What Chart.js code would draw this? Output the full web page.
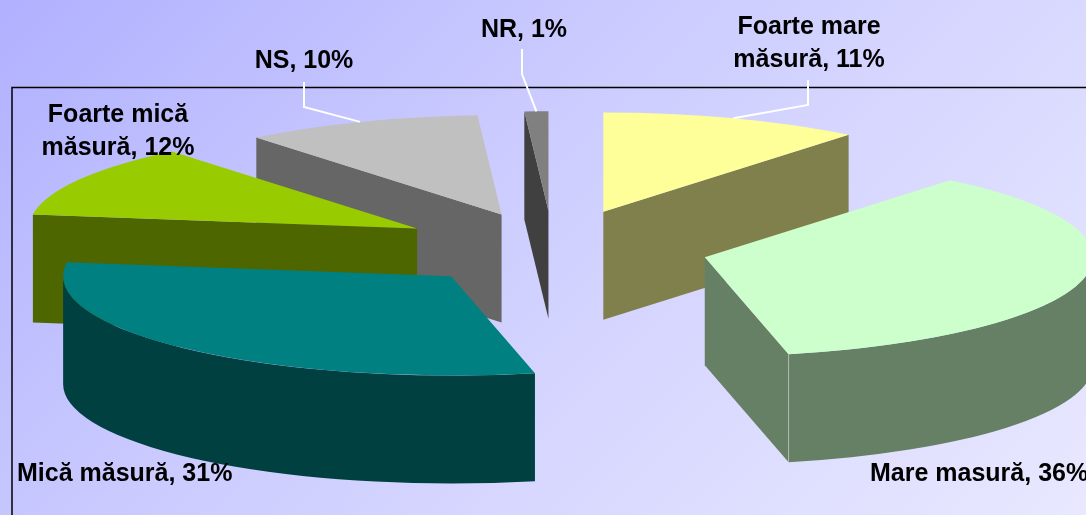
<!DOCTYPE html>
<html>
<head>
<meta charset="utf-8">
<title>Pie 3D</title>
<script src="https://cdn.jsdelivr.net/npm/chart.js@4"></script>
<style>
    html, body { margin: 0; padding: 0; width: 1086px; height: 515px; overflow: hidden; }
    body { background: linear-gradient(135deg, #b0b0ff 0%, #c8c8ff 35%, #d8d8ff 65%, #e8e8ff 100%); }
    canvas { display: block; }
</style>
</head>
<body>
<canvas id="pie" width="1086" height="515"></canvas>
<script>
// Data (clockwise from the top)
const categories = ['Foarte mare măsură', 'Mare masură', 'Mică măsură', 'Foarte mică măsură', 'NS', 'NR'];
const percentages = [11, 36, 31, 12, 10, 1];
const labelLines = [
    ['Foarte mare', 'măsură, 11%'],
    ['Mare masură, 36%'],
    ['Mică măsură, 31%'],
    ['Foarte mică', 'măsură, 12%'],
    ['NS, 10%'],
    ['NR, 1%']
];
const topColors = ['#ffff99', '#ccffcc', '#008080', '#99cc00', '#c0c0c0', '#808080'];
const sideColors = ['#80804d', '#668066', '#004040', '#4d6600', '#666666', '#404040'];

// Look of the 3D pie
const TILT = 0.256;     // vertical squash of the pie
const DEPTH = 108;      // wall height in px
const RADIUS = 388;
const SEAM_SLICE = 1;   // the thin light line on the front corner
const explodeBy = [150, 156, 150, 156, 141, 146]; // how far each slice is pulled out

// Label placement: [x, first line y, align], leader: points from the text to the slice
const labelSpots = [
    [809, 27, 'center'],
    [870, 474, 'left'],
    [17, 474, 'left'],
    [118, 115, 'center'],
    [304, 61, 'center'],
    [524, 30, 'center']
];
const leaders = [
    [[808, 80], [808, 105]],
    null,
    null,
    null,
    [[304, 82], [304, 107]],
    [[522, 49], [522, 74]]
];

function midAngle(arc) {
    return (arc.startAngle + arc.endAngle) / 2;
}

// Move the canvas so that the flat arc lands on the tilted, exploded spot
function applySliceTransform(ctx, arc, index) {
    const mid = midAngle(arc);
    ctx.translate(arc.x, arc.y);
    ctx.scale(1, TILT);
    ctx.translate(Math.cos(mid) * explodeBy[index], Math.sin(mid) * explodeBy[index]);
    ctx.translate(-arc.x, -arc.y);
}

function drawRadialWall(ctx, arc, angle) {
    const depth = DEPTH / TILT;
    const rimX = arc.x + Math.cos(angle) * arc.outerRadius;
    const rimY = arc.y + Math.sin(angle) * arc.outerRadius;
    ctx.beginPath();
    ctx.moveTo(arc.x, arc.y);
    ctx.lineTo(rimX, rimY);
    ctx.lineTo(rimX, rimY + depth);
    ctx.lineTo(arc.x, arc.y + depth);
    ctx.closePath();
    ctx.fill();
}

function drawSliceWalls(ctx, arc, index) {
    const depth = DEPTH / TILT;
    ctx.fillStyle = sideColors[index];

    // Only the walls turned to the viewer
    if (Math.cos(arc.startAngle) < 0) drawRadialWall(ctx, arc, arc.startAngle);
    if (Math.cos(arc.endAngle) > 0) drawRadialWall(ctx, arc, arc.endAngle);

    const from = Math.max(arc.startAngle, 0);
    const to = Math.min(arc.endAngle, Math.PI);
    if (to > from) {
        ctx.beginPath();
        ctx.arc(arc.x, arc.y, arc.outerRadius, from, to);
        ctx.arc(arc.x, arc.y + depth, arc.outerRadius, to, from, true);
        ctx.closePath();
        ctx.fill();
    }

    if (index === SEAM_SLICE) {
        const seamX = arc.x + Math.cos(arc.endAngle) * arc.outerRadius;
        const seamY = arc.y + Math.sin(arc.endAngle) * arc.outerRadius;
        ctx.strokeStyle = '#c8d0c8';
        ctx.lineWidth = 1;
        ctx.beginPath();
        ctx.moveTo(seamX, seamY);
        ctx.lineTo(seamX, seamY + depth);
        ctx.stroke();
    }
}

const pie3d = {
    id: 'pie3d',
    beforeDraw(chart) {
        // Frame of the plot area, runs off the right and bottom of the picture
        const ctx = chart.ctx;
        ctx.save();
        ctx.strokeStyle = '#000000';
        ctx.lineWidth = 1.5;
        ctx.strokeRect(12, 87.5, 1200, 600);
        ctx.restore();
    },
    beforeDatasetDraw(chart, args) {
        const ctx = chart.ctx;
        // Paint from the back of the pie to the front
        const order = args.meta.data
            .map((arc, index) => ({ arc, index }))
            .sort((a, b) => Math.sin(midAngle(a.arc)) - Math.sin(midAngle(b.arc)));
        order.forEach(({ arc, index }) => {
            ctx.save();
            applySliceTransform(ctx, arc, index);
            drawSliceWalls(ctx, arc, index);
            arc.draw(ctx);
            ctx.restore();
        });
        return false;
    },
    afterDraw(chart) {
        const ctx = chart.ctx;
        const arcs = chart.getDatasetMeta(0).data;
        ctx.save();

        // Leader lines end on the rim, in the middle of the slice
        ctx.strokeStyle = '#ffffff';
        ctx.lineWidth = 2;
        leaders.forEach((points, index) => {
            if (!points) return;
            const arc = arcs[index];
            const mid = midAngle(arc);
            const reach = explodeBy[index] + arc.outerRadius;
            ctx.beginPath();
            points.forEach(([x, y], i) => (i ? ctx.lineTo(x, y) : ctx.moveTo(x, y)));
            ctx.lineTo(arc.x + Math.cos(mid) * reach, arc.y + Math.sin(mid) * reach * TILT);
            ctx.stroke();
        });

        ctx.fillStyle = '#000000';
        ctx.font = 'bold 25px "Liberation Sans", Arial, sans-serif';
        ctx.textBaseline = 'middle';
        labelLines.forEach((lines, index) => {
            const [x, y, align] = labelSpots[index];
            ctx.textAlign = align;
            lines.forEach((line, i) => ctx.fillText(line, x, y + i * 33.5));
        });
        ctx.restore();
    }
};

new Chart(document.getElementById('pie'), {
    type: 'pie',
    data: {
        labels: categories,
        datasets: [{
            data: percentages,
            backgroundColor: topColors,
            borderWidth: 0,
            radius: RADIUS,
            clip: false
        }]
    },
    options: {
        responsive: false,
        animation: false,
        layout: { padding: { left: 20, bottom: 19 } },
        plugins: {
            legend: { display: false },
            tooltip: { enabled: false }
        }
    },
    plugins: [pie3d]
});
</script>
</body>
</html>
